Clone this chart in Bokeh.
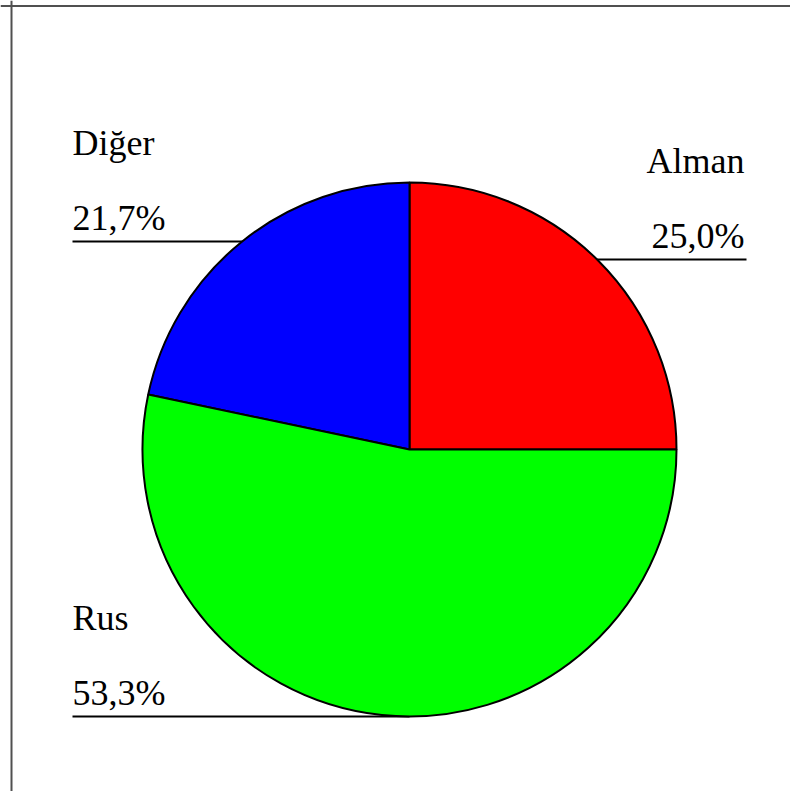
import math
from bokeh.plotting import figure
from bokeh.models import Range1d, Span, ColumnDataSource
from bokeh.core.properties import value
from bokeh.embed import file_html
from bokeh.resources import INLINE

# ---- data ----
categories = ["Alman", "Diğer", "Rus"]
shares = [25.0, 21.7, 53.3]
colors = ["#ff0000", "#0000ff", "#00ff00"]

# ---- layout (pixels in data space, 1 unit = 1 px) ----
W, H = 790, 791
cx, cy, R = 409, 342, 267
# label anchor (x, baseline of name), text alignment, leader-line far end x
label_x = [744, 72, 72]
label_y = [619, 637, 162]
label_align = ["right", "left", "left"]
line_far_x = [746, 72, 72]
gap_name_pct = 75   # vertical distance name -> percent baseline
gap_pct_line = 12   # percent baseline -> leader line
text_fix = 12       # compensation for svg baseline placement

p = figure(width=W, height=H, output_backend="svg", toolbar_location=None,
           x_range=Range1d(0, W), y_range=Range1d(0, H), min_border=0,
           background_fill_color="white", border_fill_color="white")
p.axis.visible = False
p.grid.visible = False
p.outline_line_color = None

# frame lines (top and left)
p.add_layout(Span(location=H - 5.5, dimension="width", line_color="#505050", line_width=2))
p.add_layout(Span(location=11, dimension="height", line_color="#505050", line_width=2))

# wedges
total = sum(shares)
starts, ends = [], []
a = 0.0
for s in shares:
    starts.append(a)
    a += 2 * math.pi * s / total
    ends.append(a)

# leader lines (drawn first, hidden under the pie)
pct_labels = [f"{s:.1f}".replace(".", ",") + "%" for s in shares]
ly = [y - gap_name_pct - gap_pct_line for y in label_y]
p.segment(x0=line_far_x, y0=ly, x1=[cx] * 3, y1=ly, line_color="black", line_width=2)

src = ColumnDataSource(dict(start=starts, end=ends, color=colors, cat=categories))
p.wedge(x=cx, y=cy, radius=R, start_angle="start", end_angle="end",
        fill_color="color", line_color="black", line_width=2, source=src)

# labels
for i in range(3):
    p.text(x=[label_x[i]], y=[label_y[i] + text_fix], text=[categories[i]],
           text_font=value("Liberation Serif"), text_font_size="36px",
           text_align=label_align[i], text_baseline="alphabetic", text_color="black")
    p.text(x=[label_x[i]], y=[label_y[i] - gap_name_pct + text_fix], text=[pct_labels[i]],
           text_font=value("Liberation Serif"), text_font_size="36px",
           text_align=label_align[i], text_baseline="alphabetic", text_color="black")

open("out.html", "w").write(file_html(p, INLINE))
